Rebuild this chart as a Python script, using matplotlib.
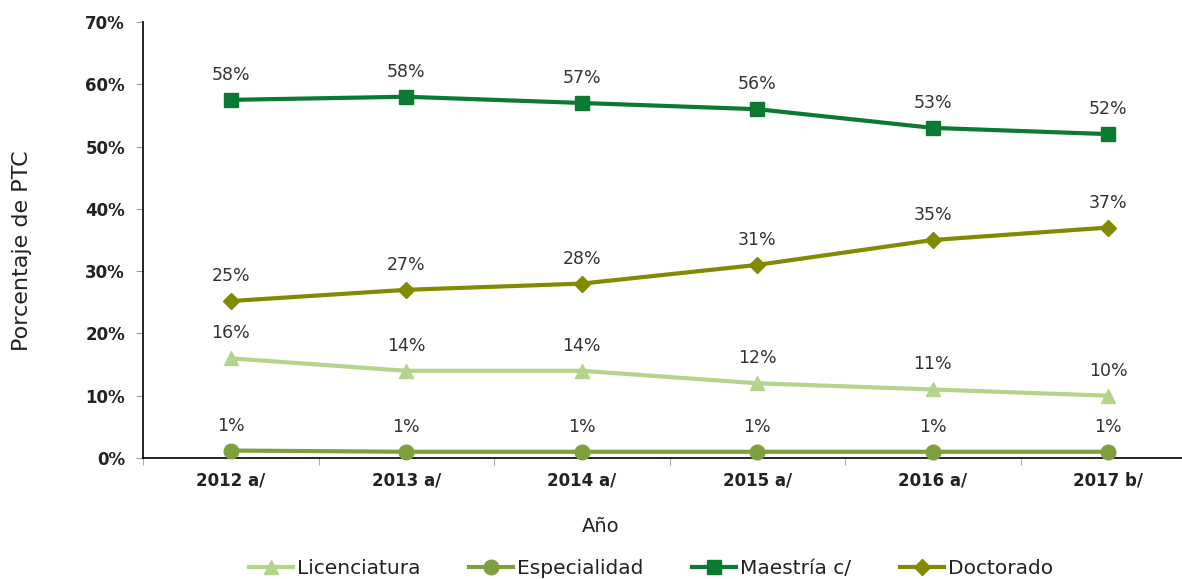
import matplotlib
matplotlib.use("Agg")
import matplotlib.pyplot as plt

years = ["2012 a/", "2013 a/", "2014 a/", "2015 a/", "2016 a/", "2017 b/"]
licenciatura = [16, 14, 14, 12, 11, 10]
especialidad = [1.2, 1, 1, 1, 1, 1]
maestria = [57.5, 58, 57, 56, 53, 52]
doctorado = [25.2, 27, 28, 31, 35, 37]
series_names = ["Licenciatura", "Especialidad", "Maestría c/", "Doctorado"]

W, H = 1182, 579
fig = plt.figure(figsize=(W / 100, H / 100), dpi=100)
ax = fig.add_axes([143 / W, (H - 458) / H, 1053 / W, 436 / H])

x = list(range(len(years)))
styles = [
    (licenciatura, "#B4D48C", "^"),
    (especialidad, "#7E9F3E", "o"),
    (maestria, "#0A7A33", "s"),
    (doctorado, "#828A00", "D"),
]
handles = []
for (vals, col, mk), name in zip(styles, series_names):
    ms = 10.5 if mk != "D" else 8.5
    h, = ax.plot(x, vals, color=col, lw=3, marker=mk, markersize=ms,
                 markeredgecolor=col, label=name, clip_on=False, zorder=3)
    handles.append(h)
    for xi, v in zip(x, vals):
        ax.annotate(f"{round(v):d}%", (xi, v), xytext=(0, 18), textcoords="offset points",
                    ha="center", va="center", fontsize=12.5, color="#333333")

ax.set_xlim(-0.5, 5.5)
ax.set_ylim(0, 70)
ax.set_yticks(range(0, 71, 10))
ax.set_yticklabels([f"{v}%" for v in range(0, 71, 10)], fontsize=12, fontweight="bold", color="#222222")
ax.set_xticks(x)
ax.set_xticklabels(years, fontsize=12, fontweight="bold", color="#222222")
ax.set_xticks([i - 0.5 for i in range(7)], minor=True)
ax.tick_params(axis="x", which="major", length=0, pad=10)
ax.tick_params(axis="x", which="minor", length=5, color="#999999")
ax.tick_params(axis="y", length=5, color="#999999", pad=8)
for s in ["top", "right"]:
    ax.spines[s].set_visible(False)
ax.spines["left"].set_linewidth(1.2)
ax.spines["bottom"].set_linewidth(1.2)

fig.text(601 / W, (H - 527) / H, "Año", ha="center", va="center", fontsize=14, color="#222222")
fig.text(22 / W, (H - 251) / H, "Porcentaje de PTC", ha="center", va="center",
         rotation=90, fontsize=16, color="#222222")

fig.legend(handles=handles, loc="center", bbox_to_anchor=(651 / W, (H - 569) / H),
           ncol=4, frameon=False, fontsize=14.5, handlelength=2.2, columnspacing=2.4,
           handletextpad=0.2, labelcolor="#222222")

fig.savefig("out.png", dpi=100)
